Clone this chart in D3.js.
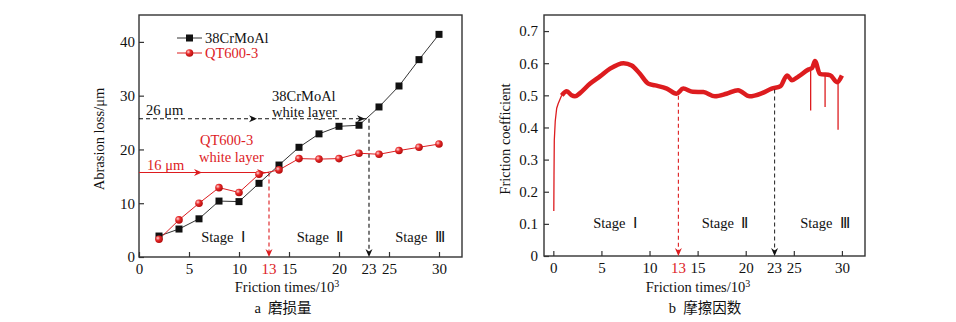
<!DOCTYPE html>
<html>
<head>
<meta charset="utf-8">
<script src="https://cdn.jsdelivr.net/npm/d3@7"></script>
<style>
  body { margin: 0; background: #fff; }
</style>
</head>
<body>
<main></main>
<script>
'use strict'

// ---- data ----
var frictionTimes = [2, 4, 6, 8, 10, 12, 14, 16, 18, 20, 22, 24, 26, 28, 30]
var crmoalLoss    = [3.9, 5.2, 7.1, 10.4, 10.3, 13.7, 17.1, 20.4, 22.9, 24.3, 24.5, 27.9, 31.8, 36.7, 41.4]
var qtLoss        = [3.3, 6.9, 10.0, 12.9, 12.0, 15.4, 16.2, 18.3, 18.2, 18.3, 19.3, 19.1, 19.8, 20.4, 21.0]
var seriesNames   = ['38CrMoAl', 'QT600-3']

// friction coefficient: initial running-in rise, then the (noisy) band
var cofRiseX = [0.05, 0.07, 0.1, 0.2, 0.35, 0.5, 0.87]
var cofRiseY = [0.14, 0.25, 0.36, 0.42, 0.46, 0.474, 0.50]
var cofX = [0.87, 1.4, 1.9, 2.25, 2.77, 3.8, 4.85, 5.9, 7.3, 8.15, 9.0, 9.9, 10.6, 11.8, 12.8, 13.5, 14.5,
            15.6, 16.8, 18.0, 19.2, 20.4, 21.7, 22.7, 23.6, 24.3, 24.8, 25.5, 26.5, 26.9, 27.2, 27.7, 28.8, 29.5, 30.0]
var cofY = [0.50, 0.513, 0.50, 0.497, 0.507, 0.536, 0.559, 0.583, 0.600, 0.593, 0.567, 0.536, 0.531, 0.521, 0.505, 0.521, 0.511,
            0.51, 0.497, 0.505, 0.516, 0.497, 0.507, 0.521, 0.528, 0.562, 0.547, 0.559, 0.580, 0.585, 0.607, 0.567, 0.562, 0.541, 0.562]
var spikeX   = [26.75, 28.25, 29.6]
var spikeTop = [0.582, 0.566, 0.545]
var spikeY   = [0.453, 0.464, 0.393]

var xTicks     = [0, 5, 10, 15, 20, 25, 30]
var lossTicks  = [0, 10, 20, 30, 40]
var cofTicks   = [0, 0.1, 0.2, 0.3, 0.4, 0.5, 0.6, 0.7]
var stageAt    = [13, 23]
var stageNames = ['Stage\u00a0\u00a0\u2160', 'Stage\u00a0\u00a0\u2161', 'Stage\u00a0\u00a0\u2162']
var wlLoss     = [15.7, 25.7]   // white layer levels (QT600-3, 38CrMoAl)
var wlCof      = [0.505, 0.524]

var RED = '#dd1c1f'
var BLK = '#111'
var SERIF = '"Liberation Serif", "Times New Roman", serif'
var CJK = '"Noto Sans CJK SC", sans-serif'

var svg = d3.select('main').append('svg')
  .attr('width', 956).attr('height', 322)

var defs = svg.append('defs')
var grad = defs.append('radialGradient').attr('id', 'ball')
  .attr('cx', '35%').attr('cy', '35%').attr('r', '65%')
grad.append('stop').attr('offset', '0%').attr('stop-color', '#ffd6d6')
grad.append('stop').attr('offset', '45%').attr('stop-color', '#e82a2a')
grad.append('stop').attr('offset', '100%').attr('stop-color', '#b50d0d')

function arrowHead (g, x, y, angle, color) {
  g.append('path')
    .attr('d', 'M-8,-3.5 L0,0 L-8,3.5 L-5.5,0 Z')
    .attr('fill', color)
    .attr('transform', 'translate(' + x + ',' + y + ') rotate(' + angle + ')')
}

function frame (g, x, y) {
  g.append('rect')
    .attr('x', x.range()[0]).attr('y', y.range()[1])
    .attr('width', x.range()[1] - x.range()[0])
    .attr('height', y.range()[0] - y.range()[1])
    .attr('fill', 'none').attr('stroke', '#333').attr('stroke-width', 1.4)
}

function bottomAxis (g, x, y) {
  var ax = g.append('g')
    .attr('transform', 'translate(0,' + y.range()[0] + ')')
    .call(d3.axisBottom(x).tickValues(xTicks).tickSize(-5).tickPadding(6))
  ax.select('.domain').remove()
  ax.selectAll('line').attr('stroke', '#333').attr('stroke-width', 1.2)
  ax.selectAll('text').attr('font-size', 15).style('fill', BLK)
  stageAt.forEach(function (v, i) {
    g.append('text')
      .attr('x', x(v)).attr('y', y.range()[0] + 6).attr('dy', '0.71em')
      .attr('text-anchor', 'middle').attr('font-size', 15)
      .style('fill', i === 0 ? RED : BLK)
      .text(v)
  })
}

function styleLeft (ax) {
  ax.select('.domain').remove()
  ax.selectAll('line').attr('stroke', '#333').attr('stroke-width', 1.2)
  ax.selectAll('text').attr('font-size', 15).style('fill', BLK)
}

function xLabel (g, cx, text, caption, capX) {
  var t = g.append('text').attr('x', cx).attr('y', 292)
    .attr('text-anchor', 'middle').attr('font-size', 14.5)
  t.append('tspan').text(text)
  t.append('tspan').attr('dy', -5).attr('font-size', 10).text('3')
  var c = g.append('text').attr('x', capX).attr('y', 313)
    .attr('text-anchor', 'middle').attr('font-size', 14.5)
  c.append('tspan').text(caption[0] + '\u00a0\u00a0')
  c.append('tspan').attr('class', 'cjk').text(caption[1])
}

// ================= a: abrasion loss =================
var xA = d3.scaleLinear().domain([0, 32.3]).range([139, 462])
var yA = d3.scaleLinear().domain([0, 45]).range([257, 15])
var gA = svg.append('g')

styleLeft(gA.append('g')
  .attr('transform', 'translate(' + xA.range()[0] + ',0)')
  .call(d3.axisLeft(yA).tickValues(lossTicks).tickSize(-5).tickPadding(4)))

bottomAxis(gA, xA, yA)
frame(gA, xA, yA)

gA.append('text')
  .attr('transform', 'translate(104,139) rotate(-90)')
  .attr('text-anchor', 'middle').attr('font-size', 14.5)
  .text('Abrasion loss/\u03bcm')
xLabel(gA, 287, 'Friction times/10', ['a', '\u78e8\u635f\u91cf'], 283)

// white-layer guides
gA.append('line')
  .attr('x1', xA.range()[0]).attr('x2', xA(stageAt[1]))
  .attr('y1', yA(wlLoss[1])).attr('y2', yA(wlLoss[1]))
  .attr('stroke', BLK).attr('stroke-width', 1.1).attr('stroke-dasharray', '4,3')
gA.append('line')
  .attr('x1', xA(stageAt[1])).attr('x2', xA(stageAt[1]))
  .attr('y1', yA(wlLoss[1])).attr('y2', yA(0) - 2)
  .attr('stroke', BLK).attr('stroke-width', 1.1).attr('stroke-dasharray', '4,3')
arrowHead(gA, xA(11.8), yA(wlLoss[1]), 0, BLK)
arrowHead(gA, xA(22.6), yA(wlLoss[1]), 0, BLK)
arrowHead(gA, xA(stageAt[1]), yA(0), 90, BLK)

gA.append('line')
  .attr('x1', xA.range()[0]).attr('x2', xA(stageAt[0]))
  .attr('y1', yA(wlLoss[0])).attr('y2', yA(wlLoss[0]))
  .attr('stroke', RED).attr('stroke-width', 1.1)
gA.append('line')
  .attr('x1', xA(stageAt[0])).attr('x2', xA(stageAt[0]))
  .attr('y1', yA(wlLoss[0])).attr('y2', yA(0) - 2)
  .attr('stroke', RED).attr('stroke-width', 1.1).attr('stroke-dasharray', '4,3')
arrowHead(gA, xA(6.3), yA(wlLoss[0]), 0, RED)
arrowHead(gA, xA(12.6), yA(wlLoss[0]), 0, RED)
arrowHead(gA, xA(stageAt[0]), yA(0), 90, RED)

// series
var lineA = d3.line()
  .x(function (d) { return xA(d[0]) })
  .y(function (d) { return yA(d[1]) })
var crmoalPts = d3.zip(frictionTimes, crmoalLoss)
var qtPts = d3.zip(frictionTimes, qtLoss)

gA.append('path').attr('d', lineA(crmoalPts))
  .attr('fill', 'none').attr('stroke', '#333').attr('stroke-width', 1)
gA.append('path').attr('d', lineA(qtPts))
  .attr('fill', 'none').attr('stroke', RED).attr('stroke-width', 1)
gA.selectAll('.sq').data(crmoalPts).enter().append('rect')
  .attr('x', function (d) { return xA(d[0]) - 3.5 })
  .attr('y', function (d) { return yA(d[1]) - 3.5 })
  .attr('width', 7).attr('height', 7).attr('fill', BLK)
gA.selectAll('.ball').data(qtPts).enter().append('circle')
  .attr('cx', function (d) { return xA(d[0]) })
  .attr('cy', function (d) { return yA(d[1]) })
  .attr('r', 3.8).attr('fill', 'url(#ball)')

// legend
var leg = gA.append('g')
leg.append('line').attr('x1', 177).attr('x2', 202).attr('y1', 38).attr('y2', 38)
  .attr('stroke', '#333')
leg.append('rect').attr('x', 186).attr('y', 34.5).attr('width', 7).attr('height', 7).attr('fill', BLK)
leg.append('text').attr('x', 205).attr('y', 43).attr('font-size', 14.5).text(seriesNames[0])
leg.append('line').attr('x1', 177).attr('x2', 202).attr('y1', 53).attr('y2', 53)
  .attr('stroke', RED)
leg.append('circle').attr('cx', 189.5).attr('cy', 53).attr('r', 3.8).attr('fill', 'url(#ball)')
leg.append('text').attr('x', 205).attr('y', 58).attr('font-size', 14.5)
  .style('fill', RED).text(seriesNames[1])

// annotations
gA.append('text').attr('x', 146).attr('y', 115).attr('font-size', 14.5).text('26 \u03bcm')
gA.append('text').attr('x', 272).attr('y', 101).attr('font-size', 14.5).text('38CrMoAl')
gA.append('text').attr('x', 272).attr('y', 117).attr('font-size', 14.5).text('white layer')
gA.append('text').attr('x', 200).attr('y', 145).attr('font-size', 14.5).style('fill', RED).text('QT600-3')
gA.append('text').attr('x', 199).attr('y', 162).attr('font-size', 14.5).style('fill', RED).text('white layer')
gA.append('text').attr('x', 147).attr('y', 170).attr('font-size', 14.5).style('fill', RED).text('16 \u03bcm')

var stageXA = [223, 320, 420]
stageNames.forEach(function (s, i) {
  gA.append('text').attr('x', stageXA[i]).attr('y', 242)
    .attr('text-anchor', 'middle').attr('font-size', 14.5).text(s)
})

// ================= b: friction coefficient =================
var xB = d3.scaleLinear().domain([-0.97, 32.4]).range([544, 865])
var yB = d3.scaleLinear().domain([0, 0.75]).range([256, 15])
var gB = svg.append('g')

styleLeft(gB.append('g')
  .attr('transform', 'translate(' + xB.range()[0] + ',0)')
  .call(d3.axisLeft(yB).tickValues(cofTicks).tickSize(-5).tickPadding(6)
    .tickFormat(function (d) { return d === 0 ? '0' : d3.format('.1f')(d) })))

bottomAxis(gB, xB, yB)
frame(gB, xB, yB)

gB.append('text')
  .attr('transform', 'translate(510,139) rotate(-90)')
  .attr('text-anchor', 'middle').attr('font-size', 14.5)
  .text('Friction coefficient')
xLabel(gB, 698, 'Friction times/10', ['b', '\u6469\u64e6\u56e0\u6570'], 705)

var lineB = d3.line()
  .x(function (d) { return xB(d[0]) })
  .y(function (d) { return yB(d[1]) })

gB.append('path').attr('d', lineB(d3.zip(cofRiseX, cofRiseY)))
  .attr('fill', 'none').attr('stroke', RED).attr('stroke-width', 1.3)
gB.append('path').attr('d', lineB.curve(d3.curveMonotoneX)(d3.zip(cofX, cofY)))
  .attr('fill', 'none').attr('stroke', RED).attr('stroke-width', 4.5)
  .attr('stroke-linejoin', 'round')
gB.selectAll('.spike').data(d3.zip(spikeX, spikeTop, spikeY)).enter().append('line')
  .attr('x1', function (d) { return xB(d[0]) })
  .attr('x2', function (d) { return xB(d[0]) })
  .attr('y1', function (d) { return yB(d[1]) })
  .attr('y2', function (d) { return yB(d[2]) })
  .attr('stroke', RED).attr('stroke-width', 1.3)

stageAt.forEach(function (v, i) {
  var c = i === 0 ? RED : '#333'
  gB.append('line')
    .attr('x1', xB(v)).attr('x2', xB(v))
    .attr('y1', yB(wlCof[i]) + 2).attr('y2', yB(0) - 2)
    .attr('stroke', c).attr('stroke-width', 1.1).attr('stroke-dasharray', '4,3')
  arrowHead(gB, xB(v), yB(0), 90, i === 0 ? RED : BLK)
})

var stageXB = [615, 725, 825]
stageNames.forEach(function (s, i) {
  gB.append('text').attr('x', stageXB[i]).attr('y', 228)
    .attr('text-anchor', 'middle').attr('font-size', 14.5).text(s)
})

// fonts: serif for everything, CJK for the captions
svg.selectAll('g').attr('font-family', null)
svg.selectAll('text, tspan').style('font-family', SERIF)
svg.selectAll('text').each(function () { if (!this.style.fill) d3.select(this).style('fill', BLK) })
svg.selectAll('.cjk').style('font-family', CJK)
</script>
</body>
</html>
